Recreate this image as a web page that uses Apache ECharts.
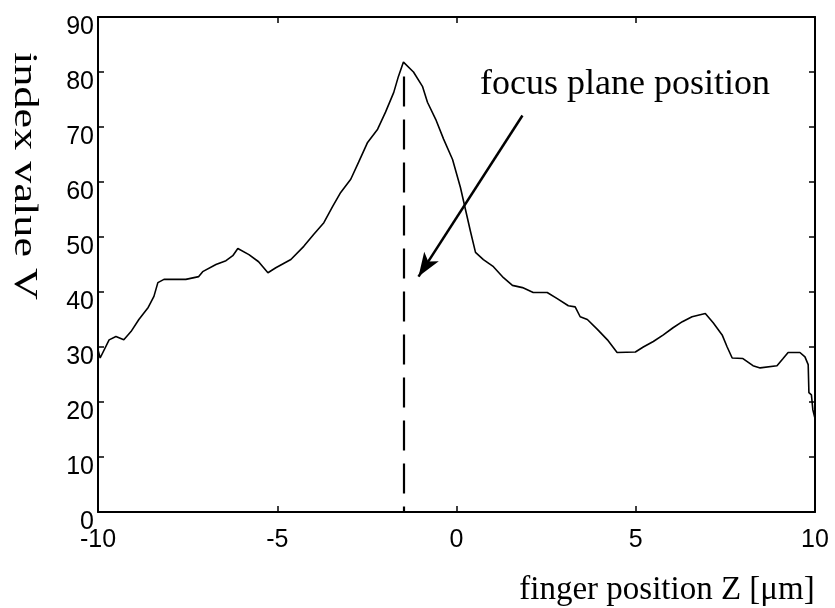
<!DOCTYPE html>
<html>
<head>
<meta charset="utf-8">
<script src="https://cdn.jsdelivr.net/npm/echarts@6/dist/echarts.min.js"></script>
<style>
  html, body { margin: 0; padding: 0; background: #fff; }
  #chart { width: 835px; height: 608px; }
</style>
</head>
<body>
<div id="chart"></div>
<script>
// Finger position Z [µm] and measured index value V along the scan
const zPositions = [
  -10, -9.94, -9.69, -9.5, -9.28, -9.08, -8.86, -8.6, -8.44, -8.33, -8.16, -7.55,
  -7.19, -7.08, -6.71, -6.43, -6.24, -6.1, -5.79, -5.52, -5.26, -5.04, -4.62, -4.26,
  -3.98, -3.7, -3.45, -3.23, -2.95, -2.73, -2.48, -2.2, -1.98, -1.75, -1.62, -1.48,
  -1.2, -0.95, -0.81, -0.58, -0.36, -0.11, 0.11, 0.25, 0.39, 0.53, 0.75, 1.03,
  1.31, 1.56, 1.84, 2.14, 2.53, 2.81, 3.12, 3.31, 3.45, 3.65, 3.93, 4.21,
  4.48, 4.99, 5.21, 5.49, 5.77, 6.04, 6.3, 6.57, 6.94, 7.16, 7.41, 7.55,
  7.69, 7.99, 8.27, 8.47, 8.94, 9.11, 9.25, 9.58, 9.72, 9.81, 9.83, 9.9,
  9.94, 10
];
const indexValues = [
  29.5, 28, 31.3, 31.9, 31.3, 32.8, 35, 37.2, 39.2, 41.7, 42.3, 42.3,
  42.8, 43.7, 45, 45.7, 46.6, 47.9, 46.8, 45.5, 43.5, 44.4, 45.9, 48.3,
  50.5, 52.6, 55.6, 58.1, 60.5, 63.6, 67.2, 69.6, 72.7, 76.3, 79.2, 81.8,
  80, 77.4, 74.5, 71.4, 67.8, 64.1, 59, 55, 51, 47.2, 45.9, 44.6,
  42.6, 41.2, 40.8, 39.9, 39.9, 38.8, 37.5, 37.3, 35.5, 35, 33.2, 31.3,
  29, 29.1, 30, 31, 32.2, 33.5, 34.6, 35.5, 36.1, 34.4, 32.2, 30,
  28, 27.9, 26.6, 26.2, 26.6, 27.9, 29, 29, 28.2, 26.8, 21.7, 21.3,
  18.6, 17
];

// Focus plane marker and the pointer arrow to it
const focusZ = -1.48;
const focusTopV = 79.2;
const arrowFrom = [1.84, 72.1];
const arrowTo = [-1.06, 42.8];

const xTicks = { min: -10, max: 10, interval: 5 };
const yTicks = { min: 0, max: 90, interval: 10 };

const tickFont = { fontFamily: 'Liberation Sans, Arial, sans-serif', fontSize: 25, color: '#000' };
const serif = 'Liberation Serif, Times New Roman, serif';

const frameLine = { show: true, onZero: false, lineStyle: { color: '#000', width: 2 } };
const innerTick = { show: true, inside: true, length: 6, lineStyle: { color: '#000', width: 1.5 } };

const chart = echarts.init(document.getElementById('chart'), null, { renderer: 'canvas' });

chart.setOption({
  animation: false,
  backgroundColor: '#fff',
  grid: { left: 98, right: 20, top: 17, bottom: 96, containLabel: false },
  xAxis: [
    {
      type: 'value', position: 'bottom', ...xTicks,
      axisLine: frameLine, axisTick: innerTick, splitLine: { show: false },
      axisLabel: { ...tickFont, margin: 16 }
    },
    {
      type: 'value', position: 'top', ...xTicks,
      axisLine: frameLine, axisTick: innerTick, splitLine: { show: false },
      axisLabel: { show: false }
    }
  ],
  yAxis: [
    {
      type: 'value', position: 'left', ...yTicks,
      axisLine: frameLine, axisTick: innerTick, splitLine: { show: false },
      axisLabel: { ...tickFont, margin: 4, verticalAlign: 'top', lineHeight: 20 }
    },
    {
      type: 'value', position: 'right', ...yTicks,
      axisLine: frameLine, axisTick: innerTick, splitLine: { show: false },
      axisLabel: { show: false }
    }
  ],
  series: [
    {
      type: 'line',
      data: zPositions.map((z, i) => [z, indexValues[i]]),
      showSymbol: false,
      symbol: 'none',
      lineStyle: { color: '#000', width: 1.6 },
      z: 3,
      markLine: {
        silent: true,
        animation: false,
        label: { show: false },
        data: [
          [
            { coord: [focusZ, focusTopV], symbol: 'none',
              lineStyle: { type: [30, 13], width: 2.2, color: '#000' } },
            { coord: [focusZ, 0], symbol: 'none' }
          ],
          [
            { coord: arrowFrom, symbol: 'none',
              lineStyle: { type: 'solid', width: 2.5, color: '#000' } },
            { coord: arrowTo, symbol: 'arrow', symbolSize: [13, 24] }
          ]
        ]
      }
    }
  ],
  graphic: [
    {
      type: 'text', left: 480, top: 67,
      style: { text: 'focus plane position', font: '36px ' + serif, fill: '#000' }
    },
    {
      type: 'text', x: 667, y: 590,
      style: { text: 'finger position Z [\u03bcm]', font: '33px ' + serif, fill: '#000',
               textAlign: 'center', textVerticalAlign: 'middle' }
    },
    {
      type: 'text', x: 24, y: 176, rotation: -Math.PI / 2, scaleX: 1.3,
      style: { text: 'index value V', font: '34px ' + serif, fill: '#000',
               textAlign: 'center', textVerticalAlign: 'middle' }
    }
  ]
});
</script>
</body>
</html>
